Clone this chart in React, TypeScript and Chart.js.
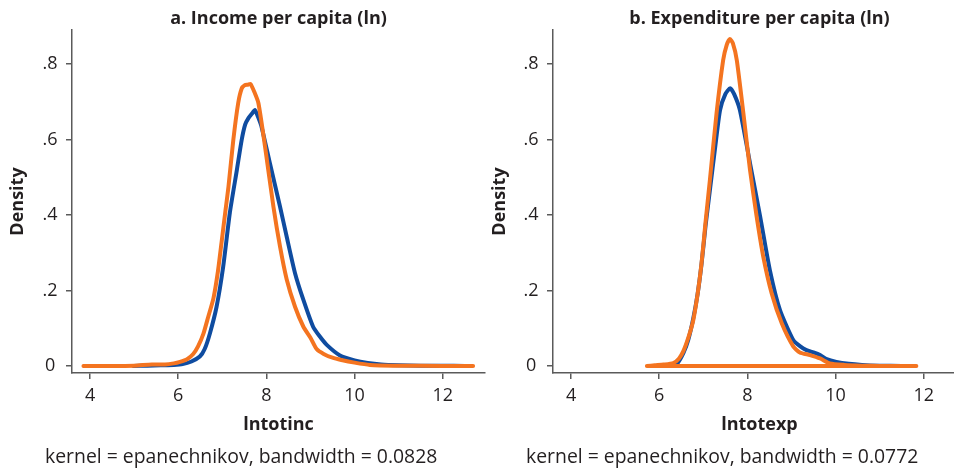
import React, { useEffect, useRef } from "react";
import { Chart, registerables } from "chart.js";

Chart.register(...registerables);

// ---------- data ----------
const X_TICKS = [4, 6, 8, 10, 12];
const Y_TICKS = [0, 0.2, 0.4, 0.6, 0.8];
const X_MIN = 3.59;
const X_MAX = 12.96;
const Y_MIN = -0.0185;
const Y_MAX = 0.89;

const incomeBlueX = [4.98, 5.3, 5.6, 5.9, 6.1, 6.3, 6.49, 6.6, 6.72, 6.87, 7.02, 7.17, 7.33, 7.44, 7.52, 7.59, 7.67, 7.74, 7.81, 7.89, 8.08, 8.31, 8.46, 8.65, 8.84, 9.06, 9.2, 9.37, 9.67, 10.0, 10.3, 10.6, 11.0, 11.5, 12.0, 12.5];
const incomeBlueY = [0, 0.001, 0.002, 0.003, 0.005, 0.012, 0.025, 0.045, 0.087, 0.157, 0.263, 0.405, 0.519, 0.599, 0.64, 0.656, 0.668, 0.678, 0.66, 0.634, 0.537, 0.422, 0.343, 0.246, 0.175, 0.104, 0.08, 0.056, 0.028, 0.015, 0.008, 0.004, 0.002, 0.001, 0.001, 0];

const incomeOrangeX = [3.85, 4.5, 5.0, 5.4, 5.7, 5.9, 6.04, 6.2, 6.34, 6.45, 6.57, 6.68, 6.8, 6.9, 6.99, 7.07, 7.14, 7.25, 7.36, 7.44, 7.51, 7.58, 7.64, 7.73, 7.82, 7.97, 8.16, 8.31, 8.46, 8.65, 8.84, 9.0, 9.14, 9.3, 9.5, 9.7, 10.0, 10.35, 11.0, 12.0, 12.69];
const incomeOrangeY = [0, 0, 0.001, 0.004, 0.004, 0.007, 0.011, 0.018, 0.032, 0.052, 0.085, 0.13, 0.18, 0.25, 0.334, 0.41, 0.475, 0.599, 0.696, 0.735, 0.744, 0.745, 0.747, 0.725, 0.696, 0.581, 0.422, 0.316, 0.23, 0.157, 0.104, 0.075, 0.045, 0.032, 0.022, 0.016, 0.009, 0.003, 0.001, 0, 0];

const expBlueX = [6.2, 6.4, 6.55, 6.66, 6.77, 6.87, 6.96, 7.05, 7.15, 7.27, 7.38, 7.5, 7.61, 7.7, 7.83, 8.06, 8.29, 8.51, 8.74, 9.04, 9.2, 9.34, 9.5, 9.65, 9.8, 10.02, 10.3, 10.6, 11.0, 11.5];
const expBlueY = [0, 0.006, 0.035, 0.07, 0.125, 0.19, 0.27, 0.37, 0.466, 0.58, 0.678, 0.72, 0.736, 0.72, 0.678, 0.537, 0.396, 0.254, 0.148, 0.069, 0.052, 0.042, 0.036, 0.029, 0.018, 0.011, 0.006, 0.003, 0.001, 0];

const expOrangeX = [5.72, 5.9, 6.1, 6.32, 6.45, 6.55, 6.66, 6.77, 6.87, 6.96, 7.05, 7.15, 7.3, 7.45, 7.53, 7.6, 7.67, 7.76, 7.91, 8.06, 8.21, 8.36, 8.55, 8.78, 9.04, 9.19, 9.42, 9.65, 9.87, 10.2, 10.6, 11.0, 11.82, 5.72];
const expOrangeY = [0, 0.002, 0.004, 0.008, 0.02, 0.04, 0.075, 0.12, 0.19, 0.272, 0.38, 0.493, 0.669, 0.81, 0.85, 0.866, 0.855, 0.81, 0.669, 0.519, 0.396, 0.29, 0.193, 0.113, 0.052, 0.036, 0.029, 0.02, 0.007, 0.003, 0.001, 0, 0, 0];

// ---------- style ----------
const BLUE = "#0f4ca0";
const ORANGE = "#f47420";
const AXIS = "#5a5a5a";
const TEXT = "#231f20";
const FONT = '"Open Sans", "Noto Sans", sans-serif';

const zip = (xs: number[], ys: number[]) => xs.map((x, i) => ({ x, y: ys[i] }));

const fmtY = (v: number) => (v === 0 ? "0" : v.toFixed(1).replace(/^0/, ""));

type PanelProps = {
  left: number;
  width: number;
  title: string;
  xTitle: string;
  note: string;
  noteX: number;
  blue: { x: number; y: number }[];
  orange: { x: number; y: number }[];
  yAxisWidth: number;
  yTitlePad: number;
  padRight: number;
};

function Panel(p: PanelProps) {
  const ref = useRef<HTMLCanvasElement>(null);
  useEffect(() => {
    const notePlugin = {
      id: "note",
      afterDraw(chart: any) {
        const ctx = chart.ctx;
        ctx.save();
        ctx.font = `19.4px ${FONT}`;
        ctx.fillStyle = TEXT;
        ctx.textAlign = "left";
        ctx.textBaseline = "alphabetic";
        ctx.fillText(p.note, p.noteX, 462.5);
        ctx.restore();
      },
    };
    const lineCommon = {
      pointRadius: 0,
      borderWidth: 4,
      tension: 0.2,
      fill: false,
      borderJoinStyle: "round" as const,
      borderCapStyle: "round" as const,
    };
    const chart = new Chart(ref.current!, {
      type: "line",
      data: {
        datasets: [
          { ...lineCommon, data: p.orange, borderColor: ORANGE, order: 0 },
          { ...lineCommon, data: p.blue, borderColor: BLUE, order: 1 },
        ],
      },
      options: {
        animation: false,
        responsive: false,
        events: [],
        layout: { padding: { left: 0, right: p.padRight, top: 0, bottom: 0 } },
        plugins: {
          legend: { display: false },
          tooltip: { enabled: false },
          title: {
            display: true,
            text: p.title,
            fullSize: false,
            color: TEXT,
            font: { family: FONT, size: 18, weight: "bold" },
            padding: { top: 8.2, bottom: 0.2 },
          },
        },
        scales: {
          x: {
            type: "linear",
            min: X_MIN,
            max: X_MAX,
            afterBuildTicks: (s: any) => {
              s.ticks = X_TICKS.map((v) => ({ value: v }));
            },
            afterFit: (s: any) => {
              s.height = 98;
            },
            grid: { drawOnChartArea: false, drawTicks: true, tickLength: 6, color: AXIS, lineWidth: 1.5 },
            border: { display: true, color: AXIS, width: 1.5 },
            ticks: {
              autoSkip: false,
              maxRotation: 0,
              padding: 6.2,
              color: TEXT,
              font: { family: FONT, size: 18 },
              callback: (v: any) => String(v),
            },
            title: {
              display: true,
              text: p.xTitle,
              color: TEXT,
              font: { family: FONT, size: 18, weight: "bold" },
              padding: { top: 0, bottom: 35.2 },
            },
          },
          y: {
            type: "linear",
            min: Y_MIN,
            max: Y_MAX,
            afterBuildTicks: (s: any) => {
              s.ticks = Y_TICKS.map((v) => ({ value: v }));
            },
            afterFit: (s: any) => {
              s.width = p.yAxisWidth;
            },
            grid: { drawOnChartArea: false, drawTicks: true, tickLength: 6, color: AXIS, lineWidth: 1.5 },
            border: { display: true, color: AXIS, width: 1.5 },
            ticks: {
              autoSkip: false,
              padding: 8.4,
              crossAlign: "center",
              color: TEXT,
              font: { family: FONT, size: 18 },
              callback: (v: any) => fmtY(Number(v)),
            },
            title: {
              display: true,
              text: "Density",
              color: TEXT,
              font: { family: FONT, size: 18, weight: "bold" },
              padding: { top: p.yTitlePad, bottom: 0 },
            },
          },
        },
      },
      plugins: [notePlugin],
    } as any);
    return () => chart.destroy();
  }, []);
  return (
    <canvas
      ref={ref}
      width={p.width}
      height={471}
      style={{ position: "absolute", left: p.left, top: 0, width: p.width, height: 471 }}
    />
  );
}

export default function App() {
  return (
    <div
      style={{
        position: "absolute",
        left: 0,
        top: 0,
        width: 954,
        height: 471,
        overflow: "hidden",
        background: "#ffffff",
      }}
    >
      <Panel
        left={0}
        width={490}
        title="a. Income per capita (ln)"
        xTitle="lntotinc"
        note="kernel = epanechnikov, bandwidth = 0.0828"
        noteX={45}
        blue={zip(incomeBlueX, incomeBlueY)}
        orange={zip(incomeOrangeX, incomeOrangeY)}
        yAxisWidth={72}
        yTitlePad={6.7}
        padRight={5}
      />
      <Panel
        left={477}
        width={490}
        title="b. Expenditure per capita (ln)"
        xTitle="lntotexp"
        note="kernel = epanechnikov, bandwidth = 0.0772"
        noteX={49}
        blue={zip(expBlueX, expBlueY)}
        orange={zip(expOrangeX, expOrangeY)}
        yAxisWidth={76}
        yTitlePad={11.7}
        padRight={1}
      />
    </div>
  );
}
